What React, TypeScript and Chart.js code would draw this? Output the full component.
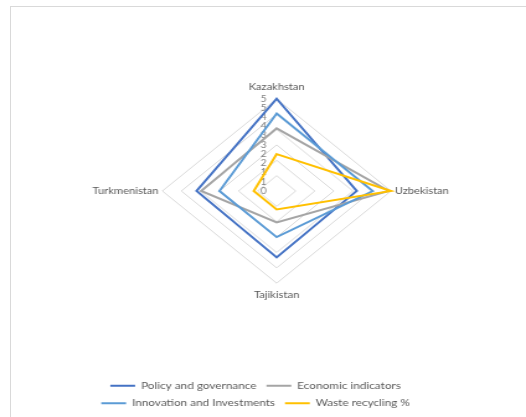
import React, { useEffect, useRef } from 'react';
import { Chart, registerables } from 'chart.js';

Chart.register(...registerables);

const COUNTRIES = ['Kazakhstan', 'Uzbekistan', 'Tajikistan', 'Turkmenistan'];
const SERIES_NAMES = [
  'Policy and governance',
  'Economic indicators',
  'Innovation and Investments',
  'Waste recycling %',
];
const POLICY_AND_GOVERNANCE = [5, 3.5, 3.6, 3.5];
const ECONOMIC_INDICATORS = [3.4, 4.9, 1.7, 3.3];
const INNOVATION_AND_INVESTMENTS = [4.2, 4.2, 2.5, 2.5];
const WASTE_RECYCLING = [2, 5, 1, 1];
const SERIES_COLORS = ['#4472C4', '#A5A5A5', '#5B9BD5', '#FFC000'];

const TICK_VALUES = [0, 0.5, 1, 1.5, 2, 2.5, 3, 3.5, 4, 4.5, 5];
const TICK_LABELS = ['0', '1', '1', '2', '2', '3', '3', '4', '4', '5', '5'];
const RING_VALUES = [0, 0.8333, 1.6667, 2.5, 3.3333, 4.1667, 5];

const CANVAS_W = 424;
const CANVAS_H = 418;
const PAGE_W = 526;
const PAGE_H = 417;
const FONT = 'Lato';

const tickLabelPlugin = {
  id: 'tickLabels',
  beforeDatasetsDraw(chart: any) {
    const scale = chart.scales.r;
    const ctx = chart.ctx;
    ctx.save();
    ctx.font = `8.5px ${FONT}`;
    ctx.fillStyle = '#7f7f7f';
    ctx.textAlign = 'right';
    ctx.textBaseline = 'middle';
    TICK_VALUES.forEach((v, i) => {
      const p = scale.getPointPositionForValue(0, v);
      ctx.fillText(TICK_LABELS[i], p.x - 8, p.y);
    });
    ctx.restore();
  },
};

export default function App() {
  const ref = useRef<HTMLCanvasElement>(null);

  useEffect(() => {
    const seriesValues = [
      POLICY_AND_GOVERNANCE,
      ECONOMIC_INDICATORS,
      INNOVATION_AND_INVESTMENTS,
      WASTE_RECYCLING,
    ];
    const chart = new Chart(ref.current as HTMLCanvasElement, {
      type: 'radar',
      data: {
        labels: COUNTRIES,
        datasets: seriesValues.map((vals, i) => ({
          label: SERIES_NAMES[i],
          data: vals,
          borderColor: SERIES_COLORS[i],
          backgroundColor: SERIES_COLORS[i],
          borderWidth: 2,
          pointRadius: 0,
          pointHoverRadius: 0,
          fill: false,
          tension: 0,
          order: 3 - i,
        })),
      },
      plugins: [tickLabelPlugin],
      options: {
        responsive: false,
        devicePixelRatio: 1,
        animation: false,
        layout: { padding: { top: 83, left: 32, right: 44, bottom: 0 } },
        plugins: {
          tooltip: { enabled: false },
          legend: {
            position: 'bottom',
            align: 'center',
            labels: {
              usePointStyle: true,
              pointStyle: 'line',
              pointStyleWidth: 20,
              font: { family: FONT, size: 9.5 },
              color: '#595959',
              padding: 8,
              sort: (a: any, b: any) => a.datasetIndex - b.datasetIndex,
            },
          },
        },
        scales: {
          r: {
            min: 0,
            max: 5,
            afterBuildTicks: (s: any) => {
              s.ticks = RING_VALUES.map((v) => ({ value: v }));
            },
            ticks: { display: false },
            grid: { color: '#d9d9d9', lineWidth: 1 },
            angleLines: { display: false },
            pointLabels: {
              font: { family: FONT, size: 9 },
              color: '#595959',
              padding: (c: any) => (c.index % 2 === 0 ? 6 : 3),
            },
          },
          padLeft: {
            type: 'linear',
            axis: 'y',
            position: 'left',
            min: 0,
            max: 1,
            grid: { display: false },
            border: { display: false },
            ticks: { display: false },
            afterFit: (s: any) => {
              s.width = 29;
            },
          },
          padBottom: {
            type: 'linear',
            axis: 'x',
            position: 'bottom',
            min: 0,
            max: 1,
            grid: { display: false },
            border: { display: false },
            ticks: { display: false },
            afterFit: (s: any) => {
              s.height = 72;
            },
          },
        },
      } as any,
    });
    return () => chart.destroy();
  }, []);

  return (
    <div
      style={{
        position: 'absolute',
        left: 0,
        top: 0,
        width: PAGE_W,
        height: PAGE_H,
        overflow: 'hidden',
        background: '#ffffff',
      }}
    >
      <div
        style={{
          position: 'absolute',
          left: 10,
          top: 6,
          right: -10,
          bottom: -10,
          borderLeft: '1px solid #d9d9d9',
          borderTop: '1px solid #d9d9d9',
        }}
      />
      <div
        style={{
          position: 'absolute',
          left: 0,
          top: 0,
          width: CANVAS_W,
          height: CANVAS_H,
          transform: `scaleX(${PAGE_W / CANVAS_W})`,
          transformOrigin: '0 0',
        }}
      >
        <canvas
          ref={ref}
          width={CANVAS_W}
          height={CANVAS_H}
          style={{ display: 'block', width: CANVAS_W, height: CANVAS_H }}
        />
      </div>
    </div>
  );
}
